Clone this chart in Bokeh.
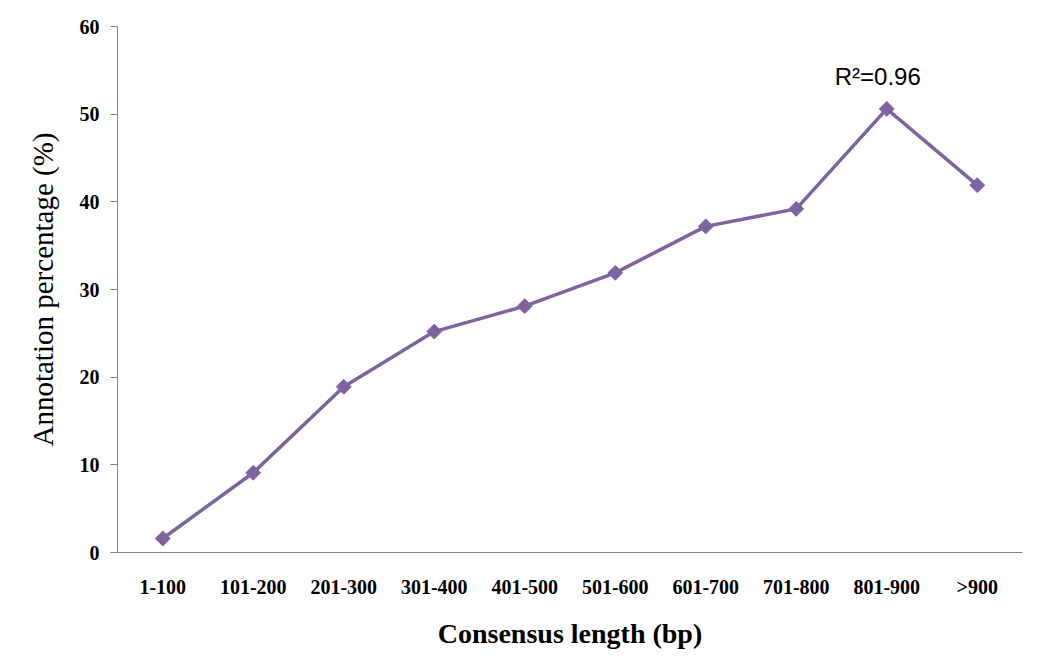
import math
from bokeh.plotting import figure
from bokeh.models import FactorRange, Range1d, FixedTicker
from bokeh.core.properties import value
from bokeh.embed import file_html
from bokeh.resources import INLINE

categories = ["1-100", "101-200", "201-300", "301-400", "401-500",
              "501-600", "601-700", "701-800", "801-900", ">900"]
annotation_pct = [1.6, 9.1, 18.9, 25.2, 28.1, 31.9, 37.2, 39.2, 50.6, 41.9]
y_ticks = [0, 10, 20, 30, 40, 50, 60]
r2_text = ["R\u00b2=0.96"]
r2_x = ["801-900"]
r2_y = [54.3]

color = "#7F63A1"

p = figure(width=1039, height=664, x_range=FactorRange(*categories, range_padding=0),
           y_range=Range1d(0, 60), output_backend="svg", toolbar_location=None,
           min_border_left=117, min_border_top=26, min_border_bottom=112,
           min_border_right=17)
p.outline_line_color = None
p.xgrid.grid_line_color = None
p.ygrid.grid_line_color = None
p.background_fill_color = "white"

p.line(categories, annotation_pct, line_color=color, line_width=3.5)
p.scatter(categories, annotation_pct, marker="square", size=10.5, angle=math.pi / 4,
          fill_color=color, line_color=color)

p.text(r2_x, r2_y, text=r2_text, text_font=value("Liberation Sans"),
       text_font_size="24px", text_align="center", text_baseline="middle",
       text_color="black", x_offset=-9)

axis_col = "#868686"
p.yaxis.ticker = FixedTicker(ticks=y_ticks)
p.yaxis.axis_line_color = axis_col
p.yaxis.major_tick_line_color = axis_col
p.yaxis.major_tick_out = 7
p.yaxis.major_tick_in = 0
p.yaxis.minor_tick_line_color = None
p.yaxis.major_label_text_font = "Liberation Serif"
p.yaxis.major_label_text_font_style = "bold"
p.yaxis.major_label_text_font_size = "20px"
p.yaxis.major_label_text_color = "black"
p.yaxis.major_label_standoff = 11
p.yaxis.axis_label = "Annotation percentage (%)"
p.yaxis.axis_label_text_font = "Liberation Serif"
p.yaxis.axis_label_text_font_style = "normal"
p.yaxis.axis_label_text_font_size = "29px"
p.yaxis.axis_label_text_color = "black"
p.yaxis.axis_label_standoff = 18

p.xaxis.axis_line_color = axis_col
p.xaxis.major_tick_line_color = None
p.xaxis.major_tick_out = 0
p.xaxis.major_tick_in = 0
p.xaxis.major_label_text_font = "Liberation Serif"
p.xaxis.major_label_text_font_style = "bold"
p.xaxis.major_label_text_font_size = "20px"
p.xaxis.major_label_text_color = "black"
p.xaxis.major_label_standoff = 23
p.xaxis.axis_label = "Consensus length (bp)"
p.xaxis.axis_label_text_font = "Liberation Serif"
p.xaxis.axis_label_text_font_style = "bold"
p.xaxis.axis_label_text_font_size = "28px"
p.xaxis.axis_label_text_color = "black"
p.xaxis.axis_label_standoff = 17

open("out.html", "w").write(file_html(p, INLINE))
